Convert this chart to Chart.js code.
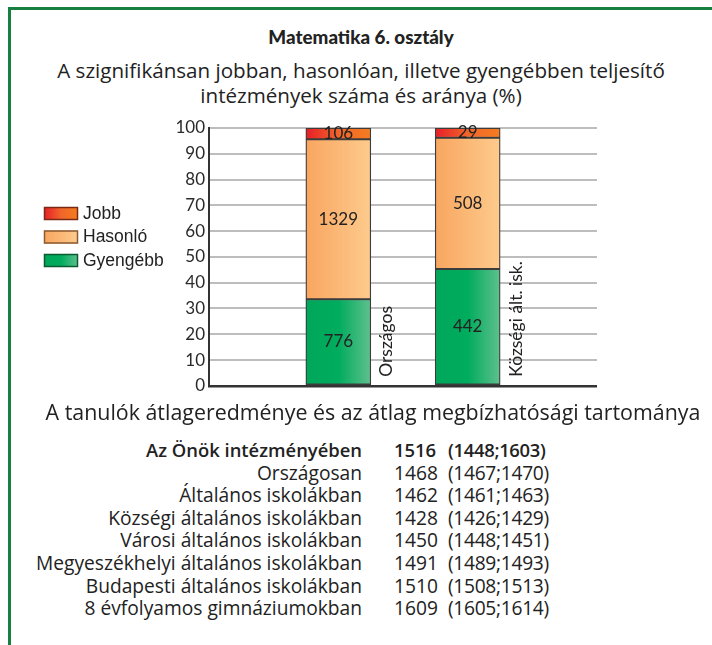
<!DOCTYPE html>
<html lang="hu">
<head>
<meta charset="utf-8">
<script src="https://cdn.jsdelivr.net/npm/chart.js@4.4.1/dist/chart.umd.min.js"></script>
<style>
  body { margin: 0; width: 712px; height: 645px; position: relative; overflow: hidden; background: #fff; font-family: "Open Sans", sans-serif; color: #222; }
  #keret { position: absolute; left: 8px; top: 7px; width: 720px; height: 700px; border-top: 3px solid #17803f; border-left: 3px solid #17803f; }
  .kozep { position: absolute; left: 10px; right: 0; text-align: center; white-space: nowrap; }
  #cim { top: 26px; font-family: Lato, sans-serif; font-weight: 900; font-size: 18.8px; line-height: 22px; }
  #alcim { top: 58px; font-size: 20.6px; line-height: 25px; }
  #atlagcim { top: 399px; left: 34px; font-size: 21.4px; line-height: 25px; }
  #vaszon { position: absolute; left: 0; top: 110px; width: 620px; height: 290px; }
  .sor { position: absolute; left: 0; width: 712px; height: 22px; line-height: 22px; font-size: 19.2px; white-space: nowrap; }
  .sor span { position: absolute; }
  .sor .nev { right: 350px; }
  .sor .atl { left: 394px; }
  .sor .int { left: 448px; letter-spacing: -0.3px; }
  .sor.kiemelt { font-weight: 600; font-size: 18.4px; }
</style>
</head>
<body>
<div id="keret"></div>
<div class="kozep" id="cim">Matematika 6. osztály</div>
<div class="kozep" id="alcim">A szignifikánsan jobban, hasonlóan, illetve gyengébben teljesítő<br>intézmények száma és aránya (%)</div>
<div id="vaszon"><canvas id="grafikon"></canvas></div>
<div class="kozep" id="atlagcim">A tanulók átlageredménye és az átlag megbízhatósági tartománya</div>
<div id="tabla"></div>

<script>
// Kategóriák (az első és utolsó üres hely csak a tengely kitöltése)
const kategoriak = ['', 'Országos', 'Községi ált. isk.', ''];

// Arányok (%)
const gyengebbArany = [null, 33.6, 45.3, null];
const hasonloArany = [null, 62.0, 50.9, null];
const jobbArany = [null, 4.4, 3.8, null];

// Intézmények száma (feliratok)
const gyengebbDb = [null, 776, 442, null];
const hasonloDb = [null, 1329, 508, null];
const jobbDb = [null, 106, 29, null];

// Y tengely
const yMin = 0;
const yMax = 100;
const yLepes = 10;

// Átlageredmények táblázata
const sorNevek = [
  'Az Önök intézményében',
  'Országosan',
  'Általános iskolákban',
  'Községi általános iskolákban',
  'Városi általános iskolákban',
  'Megyeszékhelyi általános iskolákban',
  'Budapesti általános iskolákban',
  '8 évfolyamos gimnáziumokban'
];
const atlagok = [1516, 1468, 1462, 1428, 1450, 1491, 1510, 1609];
const alsoHatar = [1448, 1467, 1461, 1426, 1448, 1489, 1508, 1605];
const felsoHatar = [1603, 1470, 1463, 1429, 1451, 1493, 1513, 1614];

// Táblázat felépítése
const tabla = document.getElementById('tabla');
sorNevek.forEach((nev, i) => {
  const sor = document.createElement('div');
  sor.className = 'sor' + (i === 0 ? ' kiemelt' : '');
  sor.style.top = (439 + i * 22.6) + 'px';
  sor.innerHTML = '<span class="nev">' + nev + '</span>' +
    '<span class="atl">' + atlagok[i] + '</span>' +
    '<span class="int">(' + alsoHatar[i] + ';' + felsoHatar[i] + ')</span>';
  tabla.appendChild(sor);
});

const oszlopSzel = 65;

// Színátmenet egy oszlophoz
function atmenet(szinek) {
  return function (ctx) {
    const chart = ctx.chart;
    if (!chart.chartArea) return szinek[0];
    const x = chart.scales.x.getPixelForValue(ctx.dataIndex);
    const g = chart.ctx.createLinearGradient(x - oszlopSzel / 2, 0, x + oszlopSzel / 2, 0);
    szinek.forEach((c, k) => g.addColorStop(k / (szinek.length - 1), c));
    return g;
  };
}

const zoldSzinek = ['#00a75a', '#00ac5d', '#5fc08e'];
const narancsSzinek = ['#f8a660', '#fbb876', '#fdcb8d'];
const pirosSzinek = ['#e61e28', '#f1652a', '#f47d20'];

// Jelmagyarázat saját rajzolással (színátmenetes dobozok)
const jelmagyarazat = {
  id: 'jelmagyarazat',
  afterDraw(chart) {
    const c = chart.ctx;
    const tetel = [
      { nev: 'Jobb', szinek: pirosSzinek, keret: '#7a2a14' },
      { nev: 'Hasonló', szinek: narancsSzinek, keret: '#8a5a30' },
      { nev: 'Gyengébb', szinek: zoldSzinek, keret: '#0b5a32' }
    ];
    c.save();
    tetel.forEach((t, i) => {
      const y = chart.chartArea.top + 79 + i * 23.5;
      const g = c.createLinearGradient(44, 0, 78, 0);
      t.szinek.forEach((s, k) => g.addColorStop(k / (t.szinek.length - 1), s));
      c.fillStyle = g;
      c.fillRect(44, y, 34, 13);
      c.strokeStyle = t.keret;
      c.lineWidth = 1.5;
      c.strokeRect(44.5, y + 0.5, 33, 12);
      c.fillStyle = '#222';
      c.font = '17.5px "Liberation Sans", Arial, sans-serif';
      c.textBaseline = 'middle';
      c.textAlign = 'left';
      c.fillText(t.nev, 83, y + 7);
    });
    c.restore();
  }
};

// Darabszámok az oszlopokon, kategórianevek függőlegesen
const feliratok = {
  id: 'feliratok',
  afterDatasetsDraw(chart) {
    const c = chart.ctx;
    c.save();
    c.fillStyle = '#222';
    c.font = '17px Lato, sans-serif';
    c.textAlign = 'center';
    c.textBaseline = 'middle';
    chart.data.datasets.forEach((ds, i) => {
      chart.getDatasetMeta(i).data.forEach((oszlop, j) => {
        if (ds.darab[j] == null) return;
        c.fillText(ds.darab[j], oszlop.x, (oszlop.y + oszlop.base) / 2);
      });
    });
    const xs = chart.scales.x;
    kategoriak.forEach((k, j) => {
      if (!k) return;
      c.save();
      c.translate(xs.getPixelForValue(j) + 48.5, chart.chartArea.bottom - 9);
      c.rotate(-Math.PI / 2);
      c.textAlign = 'left';
      c.font = '17.5px Lato, sans-serif';
      c.fillText(k, 0, 0);
      c.restore();
    });
    c.restore();
  }
};

new Chart(document.getElementById('grafikon'), {
  type: 'bar',
  data: {
    labels: kategoriak,
    datasets: [
      { label: 'Gyengébb', data: gyengebbArany, darab: gyengebbDb, backgroundColor: atmenet(zoldSzinek) },
      { label: 'Hasonló', data: hasonloArany, darab: hasonloDb, backgroundColor: atmenet(narancsSzinek) },
      { label: 'Jobb', data: jobbArany, darab: jobbDb, backgroundColor: atmenet(pirosSzinek) }
    ].map(d => Object.assign(d, { borderColor: '#3c3c3c', borderWidth: 1.3, barThickness: oszlopSzel, borderSkipped: false }))
  },
  options: {
    responsive: true,
    maintainAspectRatio: false,
    animation: false,
    layout: { padding: { top: 18, right: 23, bottom: 14, left: 0 } },
    plugins: {
      legend: { display: false },
      tooltip: { enabled: false }
    },
    scales: {
      x: {
        display: false,
        stacked: true,
        offset: false
      },
      y: {
        stacked: true,
        min: yMin,
        max: yMax,
        afterFit(scale) { scale.width = 209; },
        ticks: {
          stepSize: yLepes,
          padding: 4,
          color: '#2a2a2a',
          font: { family: 'Lato', size: 17 }
        },
        grid: {
          drawTicks: false,
          color: ctx => ctx.tick && ctx.tick.value === 0 ? '#333' : '#bdbdbd',
          lineWidth: ctx => ctx.tick && ctx.tick.value === 0 ? 2.5 : 2
        },
        border: { display: true, color: '#333', width: 2 }
      }
    }
  },
  plugins: [jelmagyarazat, feliratok]
});
</script>
</body>
</html>
